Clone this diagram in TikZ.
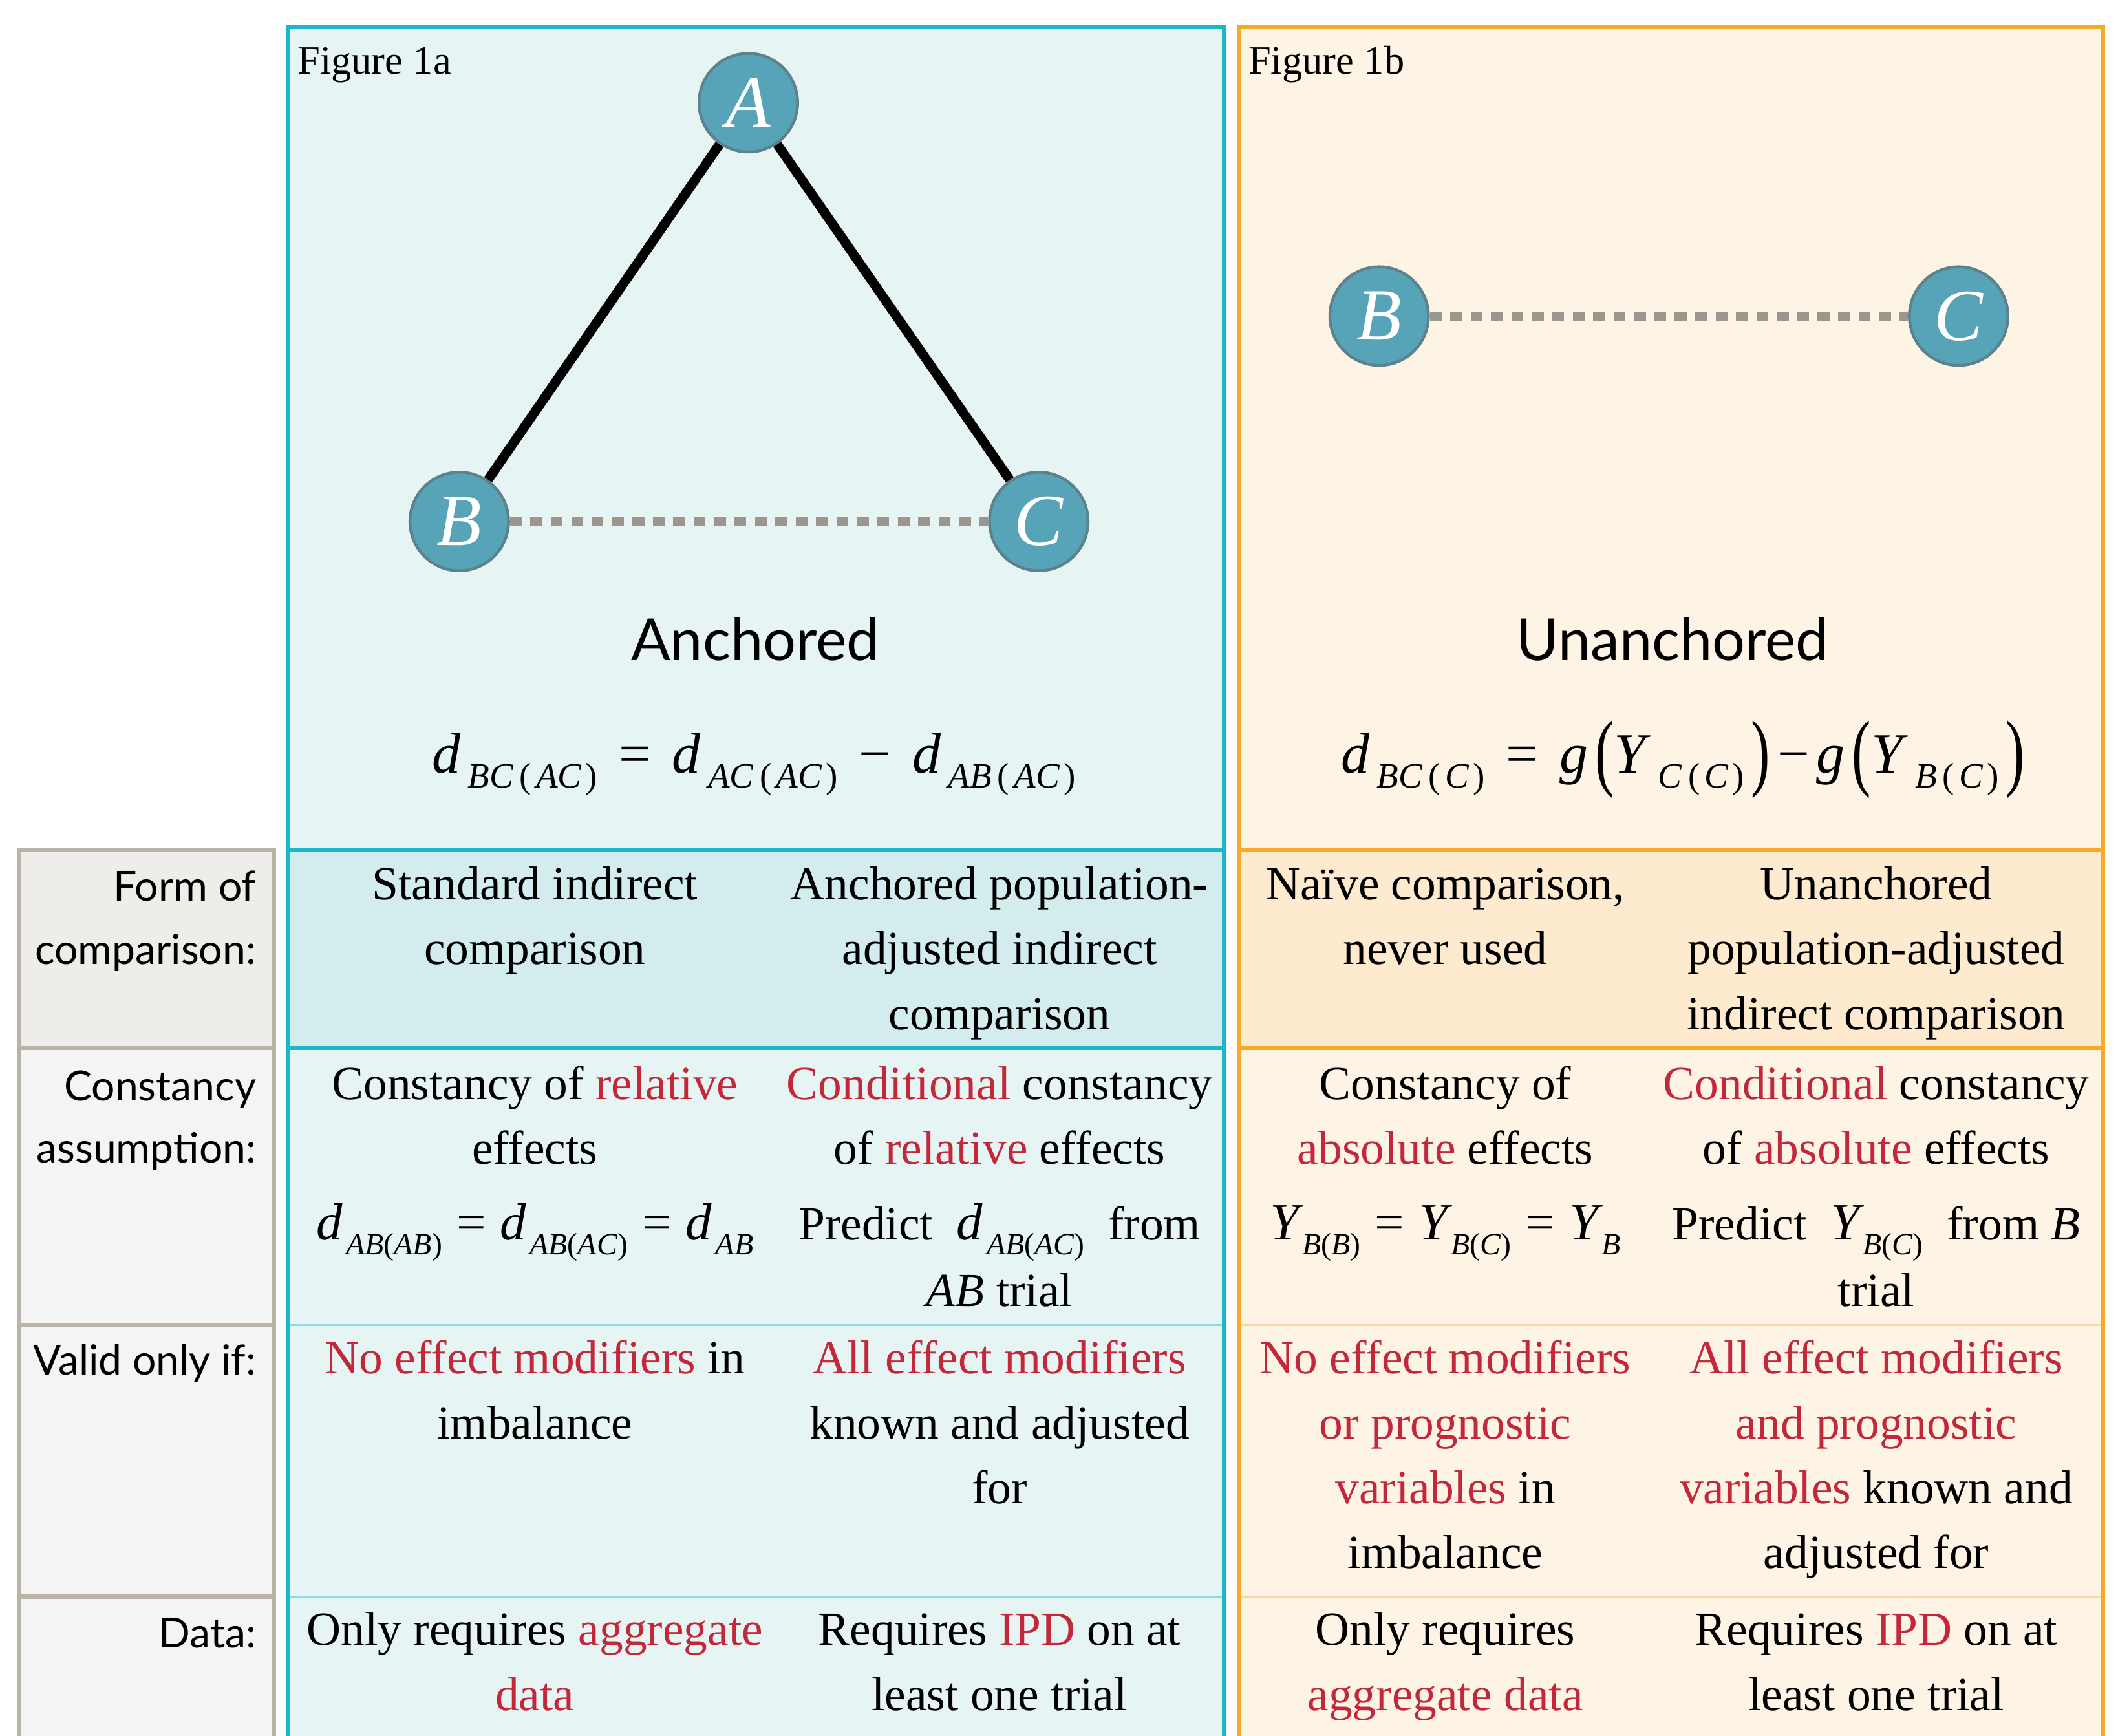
\documentclass[tikz,border=0pt]{standalone}
\usepackage{fontspec}
\usepackage{graphicx}
\setmainfont{Liberation Serif}
\newfontfamily\lblfont{Lato}
\definecolor{bluec}{HTML}{1BB7C9}
\definecolor{bluethin}{HTML}{8FD9E8}
\definecolor{orangec}{HTML}{F7A928}
\definecolor{orangethin}{HTML}{FAD7A0}
\definecolor{grayc}{HTML}{BAB3A8}
\definecolor{bluehead}{HTML}{E6F4F4}
\definecolor{bluerow}{HTML}{D3ECEE}
\definecolor{orangehead}{HTML}{FEF4E6}
\definecolor{orangerow}{HTML}{FDEACF}
\definecolor{graylight}{HTML}{F4F4F2}
\definecolor{grayrow}{HTML}{EEEDE9}
\definecolor{nodefill}{HTML}{57A3B7}
\definecolor{nodeborder}{HTML}{5C828C}
\definecolor{dotgray}{HTML}{9B978E}
\definecolor{redtxt}{HTML}{C3283A}
\newcommand\hl[1]{\textcolor{redtxt}{#1}}
\newcommand\mi[1]{\textit{#1}}
\newcommand\hsub[1]{\hspace{3pt}\raisebox{-6.5pt}{\fontsize{15}{15}\selectfont #1}}
\newcommand\tsub[1]{\hspace{1.5pt}\raisebox{-6pt}{\fontsize{13}{13}\selectfont #1}}
\newcommand\lpar{\hspace{2.5pt}(\hspace{2pt}}
\newcommand\rpar{\hspace{1.5pt})}
\newcommand\opr[1]{\hspace{9pt}#1\hspace{9pt}}
\newcommand\opy[1]{\hspace{6pt}#1\hspace{6pt}}
\newcommand\bigp[1]{\raisebox{-3pt}{\scalebox{1}[1.5]{#1}}}
\tikzset{
  txt/.style={anchor=base, inner sep=0pt, font=\fontsize{20}{24}\selectfont},
  lbl/.style={anchor=base east, inner sep=0pt, font=\lblfont\fontsize{17.5}{22}\selectfont},
  heading/.style={anchor=base, inner sep=0pt, font=\lblfont\fontsize{24.5}{28}\selectfont},
  figlbl/.style={anchor=base west, inner sep=0pt, font=\fontsize{17}{20}\selectfont},
  heq/.style={anchor=base, inner sep=0pt, font=\fontsize{24}{28}\selectfont},
  trt/.style={circle, draw=nodeborder, line width=1.2pt, fill=nodefill, minimum size=1.46cm, inner sep=0pt, text=white, font=\itshape\fontsize{31}{31}\selectfont},
  edgeline/.style={line width=4pt, black},
  dotline/.style={line width=4pt, dotgray, dash pattern=on 5pt off 3.6pt},
  thickb/.style={line width=1.7pt},
  thinb/.style={line width=0.9pt},
}
\begin{document}
\begin{tikzpicture}[x=0.02cm,y=-0.02cm]
\useasboundingbox (0,0) rectangle (1568,1285);
\clip (0,0) rectangle (1568,1285);
\fill[white] (0,0) rectangle (1568,1285);
% backgrounds
\fill[bluehead] (213,20) rectangle (906,1300);
\fill[bluerow] (213,629) rectangle (906,776);
\fill[orangehead] (917,20) rectangle (1557,1300);
\fill[orangerow] (917,629) rectangle (1557,776);
\fill[graylight] (14,629) rectangle (203,1300);
\fill[grayrow] (14,629) rectangle (203,776);
% separators
\draw[bluethin, thinb] (213,981) -- (906,981) (213,1182) -- (906,1182);
\draw[orangethin, thinb] (917,981) -- (1557,981) (917,1182) -- (1557,1182);
\draw[bluec, thickb] (213,629) -- (906,629) (213,776) -- (906,776);
\draw[orangec, thickb] (917,629) -- (1557,629) (917,776) -- (1557,776);
\draw[grayc, thickb] (14,776) -- (203,776) (14,981) -- (203,981) (14,1182) -- (203,1182);
% frames
\draw[bluec, thickb] (213,1300) -- (213,20) -- (906,20) -- (906,1300);
\draw[orangec, thickb] (917,1300) -- (917,20) -- (1557,20) -- (1557,1300);
\draw[grayc, thickb] (14,1300) -- (14,629) -- (203,629) -- (203,1300);

% Figure 1a
\node[figlbl] (fig1a) at (220,55) {Figure 1a};
\node[trt] (A) at (554,76) {A};
\node[trt] (B1) at (340,386) {B};
\node[trt] (C1) at (769,386) {C};
\draw[edgeline] (A) -- (B1);
\draw[edgeline] (A) -- (C1);
\draw[dotline] (B1) -- (C1);
\node[heading] (anch) at (559,489) {Anchored};
\node[heq] (eq1) at (558,572) {\mi{d}\hsub{\mi{BC}\lpar\mi{AC}\rpar}\opr{=}\mi{d}\hsub{\mi{AC}\lpar\mi{AC}\rpar}\opr{−}\mi{d}\hsub{\mi{AB}\lpar\mi{AC}\rpar}};

% Figure 1b
\node[figlbl] (fig1b) at (924,55) {Figure 1b};
\node[trt] (B2) at (1021,234) {B};
\node[trt] (C2) at (1450,234) {C};
\draw[dotline] (B2) -- (C2);
\node[heading] (unanch) at (1238,489) {Unanchored};
\node[heq] (eq2) at (1246,572) {\mi{d}\hsub{\mi{BC}\lpar\mi{C}\rpar}\opr{=}\mi{g}\hspace{3pt}\bigp{(}\mi{Y}\hsub{\mi{C}\lpar\mi{C}\rpar}\hspace{3pt}\bigp{)}\hspace{3pt}−\hspace{3pt}\mi{g}\hspace{3pt}\bigp{(}\mi{Y}\hsub{\mi{B}\lpar\mi{C}\rpar}\hspace{3pt}\bigp{)}};

% row labels
\node[lbl] (l1a) at (190,667) {Form of};
\node[lbl] (l1b) at (190,714) {comparison:};
\node[lbl] (l2a) at (190,815) {Constancy};
\node[lbl] (l2b) at (190,861) {assumption:};
\node[lbl] (l3a) at (190,1018) {Valid only if:};
\node[lbl] (l4a) at (190,1220) {Data:};

% row 1
\node[txt] (r1c1a) at (396,666) {Standard indirect};
\node[txt] (r1c1b) at (396,714) {comparison};
\node[txt] (r1c2a) at (740,666) {Anchored population-};
\node[txt] (r1c2b) at (740,714) {adjusted indirect};
\node[txt] (r1c2c) at (740,762) {comparison};
\node[txt] (r1c3a) at (1070,666) {Naïve comparison,};
\node[txt] (r1c3b) at (1070,714) {never used};
\node[txt] (r1c4a) at (1389,666) {Unanchored};
\node[txt] (r1c4b) at (1389,714) {population-adjusted};
\node[txt] (r1c4c) at (1389,762) {indirect comparison};

% row 2
\node[txt] (r2c1a) at (396,814) {Constancy of \hl{relative}};
\node[txt] (r2c1b) at (396,862) {effects};
\node[txt] (r2c1c) at (396,918) {\fontsize{22}{24}\selectfont\mi{d}\tsub{\mi{AB}(\mi{AB})}\opy{=}\mi{d}\tsub{\mi{AB}(\mi{AC})}\opy{=}\mi{d}\tsub{\mi{AB}}};
\node[txt] (r2c2a) at (740,814) {\hl{Conditional} constancy};
\node[txt] (r2c2b) at (740,862) {of \hl{relative} effects};
\node[txt] (r2c2c) at (740,918) {Predict\hspace{10pt}{\fontsize{22}{24}\selectfont\mi{d}\tsub{\mi{AB}(\mi{AC})}}\hspace{10pt}from};
\node[txt] (r2c2d) at (740,967) {\mi{AB} trial};
\node[txt] (r2c3a) at (1070,814) {Constancy of};
\node[txt] (r2c3b) at (1070,862) {\hl{absolute} effects};
\node[txt] (r2c3c) at (1070,918) {\fontsize{22}{24}\selectfont\mi{Y}\hspace{-2pt}\tsub{\mi{B}(\mi{B})}\opy{=}\mi{Y}\hspace{-2pt}\tsub{\mi{B}(\mi{C})}\opy{=}\mi{Y}\hspace{-2pt}\tsub{\mi{B}}};
\node[txt] (r2c4a) at (1389,814) {\hl{Conditional} constancy};
\node[txt] (r2c4b) at (1389,862) {of \hl{absolute} effects};
\node[txt] (r2c4c) at (1389,918) {Predict\hspace{10pt}{\fontsize{22}{24}\selectfont\mi{Y}\hspace{-2pt}\tsub{\mi{B}(\mi{C})}}\hspace{10pt}from \mi{B}};
\node[txt] (r2c4d) at (1389,967) {trial};

% row 3
\node[txt] (r3c1a) at (396,1017) {\hl{No effect modifiers} in};
\node[txt] (r3c1b) at (396,1065) {imbalance};
\node[txt] (r3c2a) at (740,1017) {\hl{All effect modifiers}};
\node[txt] (r3c2b) at (740,1065) {known and adjusted};
\node[txt] (r3c2c) at (740,1113) {for};
\node[txt] (r3c3a) at (1070,1017) {\hl{No effect modifiers}};
\node[txt] (r3c3b) at (1070,1065) {\hl{or prognostic}};
\node[txt] (r3c3c) at (1070,1113) {\hl{variables} in};
\node[txt] (r3c3d) at (1070,1161) {imbalance};
\node[txt] (r3c4a) at (1389,1017) {\hl{All effect modifiers}};
\node[txt] (r3c4b) at (1389,1065) {\hl{and prognostic}};
\node[txt] (r3c4c) at (1389,1113) {\hl{variables} known and};
\node[txt] (r3c4d) at (1389,1161) {adjusted for};

% row 4
\node[txt] (r4c1a) at (396,1218) {Only requires \hl{aggregate}};
\node[txt] (r4c1b) at (396,1266) {\hl{data}};
\node[txt] (r4c2a) at (740,1218) {Requires \hl{IPD} on at};
\node[txt] (r4c2b) at (740,1266) {least one trial};
\node[txt] (r4c3a) at (1070,1218) {Only requires};
\node[txt] (r4c3b) at (1070,1266) {\hl{aggregate data}};
\node[txt] (r4c4a) at (1389,1218) {Requires \hl{IPD} on at};
\node[txt] (r4c4b) at (1389,1266) {least one trial};
\end{tikzpicture}
\end{document}
